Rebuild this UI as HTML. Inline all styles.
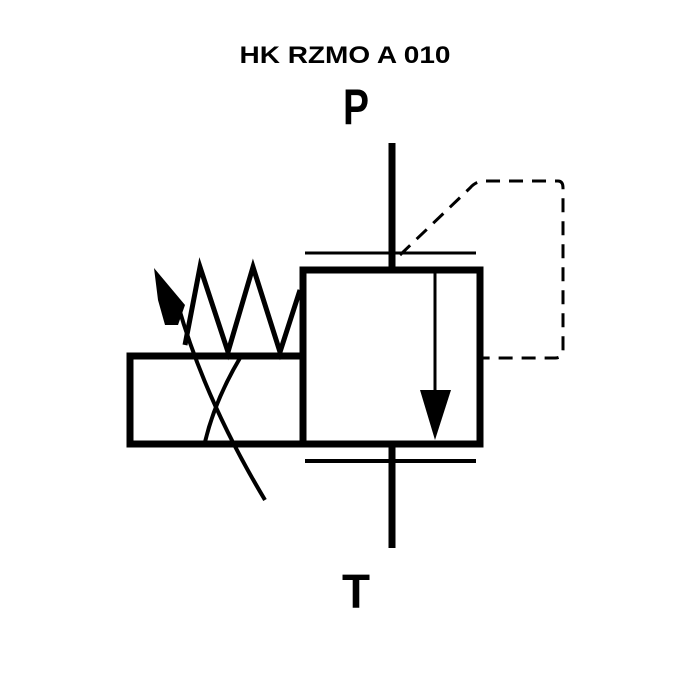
<!DOCTYPE html>
<html><head><style>html,body{margin:0;padding:0;background:#fff;width:700px;height:700px;overflow:hidden}</style></head>
<body>
<svg width="700" height="700" viewBox="0 0 700 700" xmlns="http://www.w3.org/2000/svg">
<text x="345" y="63" text-anchor="middle" font-family="Liberation Sans, sans-serif" font-weight="bold" font-size="24" textLength="211" lengthAdjust="spacingAndGlyphs">HK RZMO A 010</text>
<text x="356" y="124" text-anchor="middle" font-family="Liberation Sans, sans-serif" font-weight="bold" font-size="50" textLength="26" lengthAdjust="spacingAndGlyphs">P</text>
<text x="356" y="608" text-anchor="middle" font-family="Liberation Sans, sans-serif" font-weight="bold" font-size="48" textLength="28" lengthAdjust="spacingAndGlyphs">T</text>
<g stroke="#000" fill="none">
<line x1="392" y1="143" x2="392" y2="270" stroke-width="7"/>
<line x1="392" y1="444" x2="392" y2="548" stroke-width="7"/>
<line x1="305" y1="253" x2="476" y2="253" stroke-width="3"/>
<line x1="305" y1="461" x2="476" y2="461" stroke-width="4"/>
<rect x="303" y="270" width="177" height="174" stroke-width="7"/>
<rect x="130" y="356" width="173" height="88" stroke-width="7"/>
<line x1="435" y1="273" x2="435" y2="390" stroke-width="3"/>
<polyline points="185,345 200,267 228,352 253,267 280,352 300,290" stroke-width="5" stroke-linejoin="miter"/>
<path d="M178,305 Q205,400 265,500" stroke-width="4"/>
<path d="M240,358 Q215,400 205,442" stroke-width="4"/>
<path d="M400,255 L470,188 Q476,181 485,181 L558,181 Q563,181 563,188 L563,350 Q563,358 555,358 L483,358" stroke-width="3" stroke-dasharray="14,9"/>
</g>
<polygon points="420,390 451,390 435,440" fill="#000"/>
<polygon points="154,268 185,305 178,325 165,325 158,300" fill="#000"/>
</svg>
</body></html>
